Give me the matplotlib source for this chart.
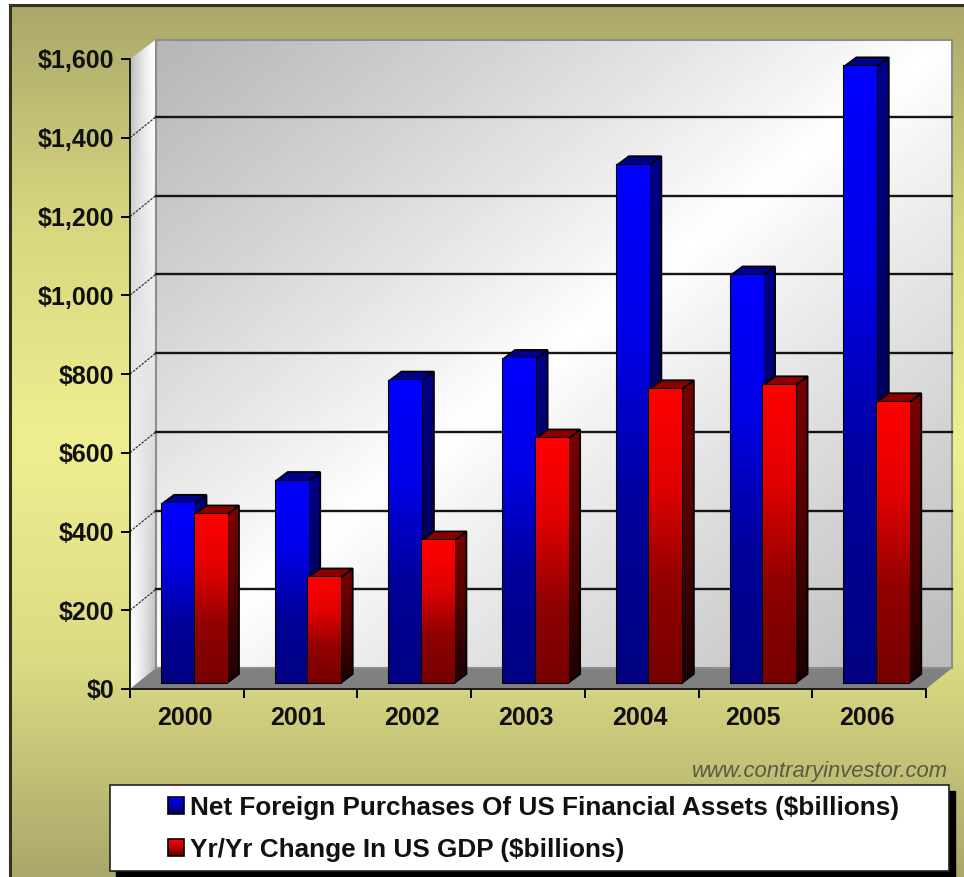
#!/usr/bin/env python3
import matplotlib
matplotlib.use("Agg")
import matplotlib.pyplot as plt
from matplotlib.colors import LinearSegmentedColormap
from matplotlib.legend_handler import HandlerBase
from matplotlib.patches import Polygon, Rectangle
import numpy as np

plt.rcParams['font.family'] = ['Liberation Sans', 'DejaVu Sans']

years = ["2000", "2001", "2002", "2003", "2004", "2005", "2006"]
foreign = [455, 513, 768, 823, 1315, 1035, 1566]
gdp = [428, 268, 362, 621, 746, 756, 713]
y_ticks = [0, 200, 400, 600, 800, 1000, 1200, 1400, 1600]
y_labels = ["$0", "$200", "$400", "$600", "$800", "$1,000", "$1,200", "$1,400", "$1,600"]
names = ["Net Foreign Purchases Of US Financial Assets ($billions)",
         "Yr/Yr Change In US GDP ($billions)"]

W, H = 964, 877
fig = plt.figure(figsize=(W / 100, H / 100), dpi=100, facecolor="white")

# pixel space layer for the page
bg = fig.add_axes([0, 0, 1, 1], zorder=0)
bg.axis("off")
page = LinearSegmentedColormap.from_list("page", ["#a9a86a", "#d8d77f", "#efee90", "#dcdb84", "#a9a86a"])
grad = np.linspace(0, 1, 256).reshape(-1, 1)
bg.imshow(grad, cmap=page, extent=(10, W, H, 5), aspect="auto", zorder=0)
bg.plot([10, 10], [5, H], color="#333320", lw=2.2, zorder=1)
bg.plot([10, W], [5, 5], color="#333320", lw=2.2, zorder=1)
bg.add_patch(Rectangle((116, 791), 839, 86, color="black", zorder=2))
bg.add_patch(Rectangle((110, 785), 839, 86, fc="white", ec="#222222", lw=1.2, zorder=3))
bg.text(948, 772, "www.contraryinvestor.com", ha="right", va="center", style="italic",
        fontsize=15.8, color="#5a5a44", zorder=3)
bg.set_xlim(0, W)
bg.set_ylim(H, 0)

# plot area: axis from x 130 to 926, y 689 to 59
ax = fig.add_axes([130 / W, 1 - 689 / H, 796 / W, 630 / H], zorder=1)
ax.patch.set_visible(False)
px_x = 7 / 796
px_y = 1600 / 630


def shade(colors, extent, clip):
    cmap = LinearSegmentedColormap.from_list("c", colors)
    im = ax.imshow(grad, cmap=cmap, extent=extent, aspect="auto", zorder=clip.get_zorder(),
                   vmin=0, vmax=1)
    im.set_clip_path(clip)
    im.set_clip_box(fig.bbox)


# walls
wall_dx, wall_dy = 26 * px_x, 21 * px_y
wall_top = 1600 + 19.5 * px_y
u, v = np.meshgrid(np.linspace(0, 1, 200), np.linspace(0, 1, 200))
t = (u + v) / 2
wall_img = np.where(t < 0.5, 1 - 0.29 * (1 - t * 2) ** 0.9, 1 - 0.27 * (t * 2 - 1) ** 0.9)
wall = ax.imshow(wall_img, cmap="gray", vmin=0, vmax=1, aspect="auto", zorder=1,
                 extent=(wall_dx, 7 + wall_dx, wall_dy, wall_top))
wall.set_clip_on(False)
ax.add_patch(Rectangle((wall_dx, wall_dy), 7, wall_top - wall_dy, fc="none", ec="#8c8c8c",
                       lw=1.5, zorder=1.2, clip_on=False))

g = (1 - v) * (1 - u) + v * u
side_img = 1 - 0.3 * g ** 1.6
side = Polygon([(0, 0), (wall_dx, wall_dy), (wall_dx, wall_top), (0, 1600)], closed=True,
               fc="none", ec="none", zorder=1)
ax.add_patch(side)
side.set_clip_on(False)
im = ax.imshow(side_img, cmap="gray", vmin=0, vmax=1, aspect="auto", zorder=1,
               extent=(0, wall_dx, 0, wall_top))
im.set_clip_path(side)
im.set_clip_box(fig.bbox)
ax.add_patch(Polygon([(0, 0), (7, 0), (7 + wall_dx, wall_dy), (wall_dx, wall_dy)], closed=True,
                     fc="#808080", ec="none", zorder=1.1, clip_on=False))

for val in y_ticks[1:-1]:
    ax.plot([wall_dx, 7 + wall_dx], [val + wall_dy, val + wall_dy], color="#151515", lw=1.7,
            zorder=1.3, clip_on=False)
    ax.plot([0, wall_dx], [val, val + wall_dy], color="#333333", lw=0.9, ls=(0, (2, 1)),
            zorder=1.3, clip_on=False)

# bars
base = 6 * px_y
off_x = 32 * px_x
bw = 32.5 * px_x
depth_x, depth_y = 12 * px_x, 9 * px_y


def draw_bar(x0, val, front, side_c, top_c):
    x1 = x0 + bw
    y0, y1 = base, base + val
    corners = [(x1, y0), (x1 + depth_x, y0 + depth_y), (x1 + depth_x, y1 + depth_y), (x1, y1)]
    sd = Polygon(corners, closed=True, fc="none", ec="none", zorder=3, clip_on=False)
    ax.add_patch(sd)
    shade(side_c, (x1, x1 + depth_x, y0, y1 + depth_y), sd)
    ax.add_patch(Polygon(corners, closed=True, fc="none", ec="black", lw=1.3, zorder=3.1, clip_on=False))
    ax.add_patch(Polygon([(x0, y1), (x0 + depth_x, y1 + depth_y), (x1 + depth_x, y1 + depth_y), (x1, y1)],
                         closed=True, fc=top_c, ec="black", lw=1.3, zorder=3.1, clip_on=False))
    rect = ax.bar(x0, val, bw, bottom=y0, align="edge", fc="none", ec="black", lw=1.5, zorder=3.3)[0]
    rect.set_clip_on(False)
    shade(front, (x0, x1, y0, y1), rect)


for i in range(len(years)):
    draw_bar(i + off_x, foreign[i], ["#0000ff", "#0000e8", "#00009a", "#000080"],
             ["#000088", "#000060", "#000038"], "#00008c")
for i in range(len(years)):
    draw_bar(i + off_x + bw, gdp[i], ["#ff0000", "#e00000", "#900000", "#760000"],
             ["#7c0000", "#500000", "#1c0000"], "#8c0000")

ax.set_xlim(0, 7)
ax.set_ylim(0, 1600)
for s in ["top", "right"]:
    ax.spines[s].set_visible(False)
for s in ["left", "bottom"]:
    ax.spines[s].set_linewidth(1.3)
    ax.spines[s].set_color("#111111")
    ax.spines[s].set_zorder(5)
ax.set_yticks(y_ticks, y_labels, fontsize=18, fontweight="bold", color="#111111")
ax.set_xticks(range(8), [""] * 8)
ax.set_xticks(np.arange(7) + 0.48, years, minor=True, fontsize=18, fontweight="bold", color="#111111")
ax.tick_params(axis="y", length=6.5, width=1.4, pad=5)
ax.tick_params(axis="x", which="major", length=6.5, width=1.4)
ax.tick_params(axis="x", which="minor", length=0, pad=12)


class GradBox(HandlerBase):
    def create_artists(self, legend, orig, xd, yd, w, h, fs, trans):
        c1 = np.array(matplotlib.colors.to_rgb(orig.get_facecolor()))
        c2 = c1 * 0.4
        out = []
        n = 8
        for k in range(n):
            col = c2 + (c1 - c2) * k / (n - 1)
            out.append(Rectangle((-xd, -yd + h * k / n), w, h / n, fc=col, ec="none", transform=trans))
        out.append(Rectangle((-xd, -yd), w, h, fc="none", ec="black", lw=1.2, transform=trans))
        return out


handles = [Rectangle((0, 0), 1, 1, fc="#0000ff"), Rectangle((0, 0), 1, 1, fc="#ff0000")]
leg = bg.legend(handles, names, handler_map={Rectangle: GradBox()}, loc="upper left",
                bbox_to_anchor=(168, 796), bbox_transform=bg.transData, frameon=False,
                prop={"weight": "bold", "size": 18.85}, labelspacing=0.68, borderpad=0,
                borderaxespad=0, handlelength=0.61, handleheight=0.61, handletextpad=0.23)
leg.set_zorder(4)
for tx in leg.get_texts():
    tx.set_color("#111111")

plt.savefig("out.png", dpi=100)
